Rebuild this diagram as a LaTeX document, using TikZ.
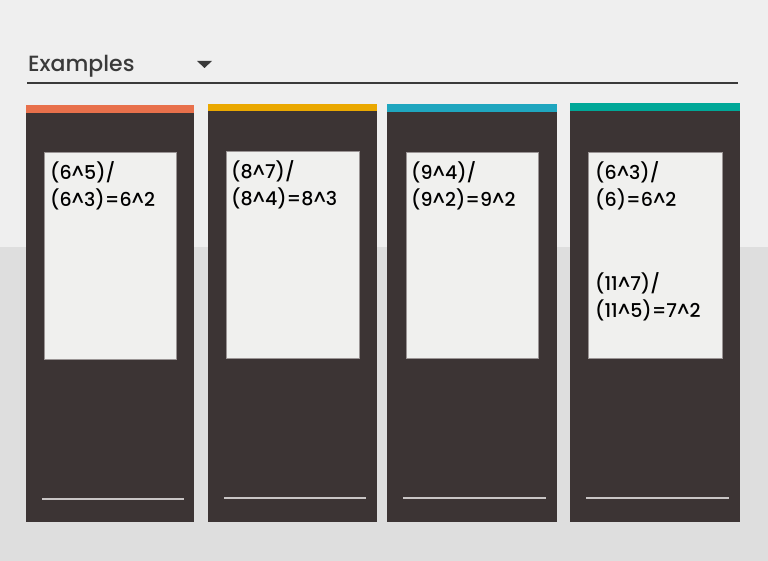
\documentclass[tikz,border=0pt]{standalone}
\usepackage{fontspec}
\setmainfont{Poppins}
\newfontfamily\cardfont{Poppins Medium}

\definecolor{bgtop}{HTML}{EFEFEF}
\definecolor{bgbottom}{HTML}{DEDEDE}
\definecolor{panelgray}{HTML}{3C3434}
\definecolor{cardwhite}{HTML}{F0F0EE}
\definecolor{cardedge}{HTML}{9A9494}
\definecolor{footgray}{HTML}{C9C5C5}
\definecolor{titlegray}{HTML}{3A3A3A}
\definecolor{orangebar}{HTML}{E8704B}
\definecolor{yellowbar}{HTML}{EAA800}
\definecolor{cyanbar}{HTML}{1FA6BF}
\definecolor{tealbar}{HTML}{00A898}

\newcommand{\pw}{\textasciicircum}

\tikzset{
  panel/.style={fill=panelgray},
  cardbox/.style={fill=cardwhite, draw=cardedge, line width=0.8pt},
  footline/.style={draw=footgray, line width=2pt},
  sum/.style={anchor=north west, inner sep=0pt, align=left, text=black,
              font=\cardfont\fontsize{19}{27}\selectfont}
}

\begin{document}
\begin{tikzpicture}[x=1pt,y=-1pt]
  \useasboundingbox (0,0) rectangle (768,561);
  \fill[bgtop] (0,0) rectangle (768,247);
  \fill[bgbottom] (0,247) rectangle (768,561);

  % heading with drop-down
  \node[anchor=base west, inner sep=0pt, text=titlegray,
        font=\cardfont\fontsize{22}{22}\selectfont] (title) at (28,72) {Examples};
  \fill[titlegray] (197,61) -- (212,61) -- (204.5,68) -- cycle;
  \draw[titlegray, line width=1.2pt] (27,83) -- (738,83);

  % first column
  \fill[orangebar] (26,105) rectangle (194,113);
  \fill[panel] (26,113) rectangle (194,522);
  \draw[cardbox] (44,152) rectangle (176,359);
  \node[sum] (sumA) at (50,161) {(6\pw5)/\\(6\pw3)=6\pw2};
  \draw[footline] (42,499) -- (184,499);

  % second column
  \fill[yellowbar] (208,104) rectangle (377,111);
  \fill[panel] (208,111) rectangle (377,522);
  \draw[cardbox] (226,151) rectangle (359,358);
  \node[sum] (sumB) at (231,160) {(8\pw7)/\\(8\pw4)=8\pw3};
  \draw[footline] (224,498) -- (366,498);

  % third column
  \fill[cyanbar] (387,104) rectangle (557,112);
  \fill[panel] (387,112) rectangle (557,522);
  \draw[cardbox] (406,152) rectangle (538,358);
  \node[sum] (sumC) at (411,161) {(9\pw4)/\\(9\pw2)=9\pw2};
  \draw[footline] (403,498) -- (546,498);

  % fourth column
  \fill[tealbar] (570,103) rectangle (740,111);
  \fill[panel] (570,111) rectangle (740,522);
  \draw[cardbox] (588,152) rectangle (722,358);
  \node[sum] (sumD) at (595,161) {(6\pw3)/\\(6)=6\pw2};
  \node[sum] (sumE) at (595,272) {(11\pw7)/\\(11\pw5)=7\pw2};
  \draw[footline] (586,498) -- (729,498);
\end{tikzpicture}
\end{document}
